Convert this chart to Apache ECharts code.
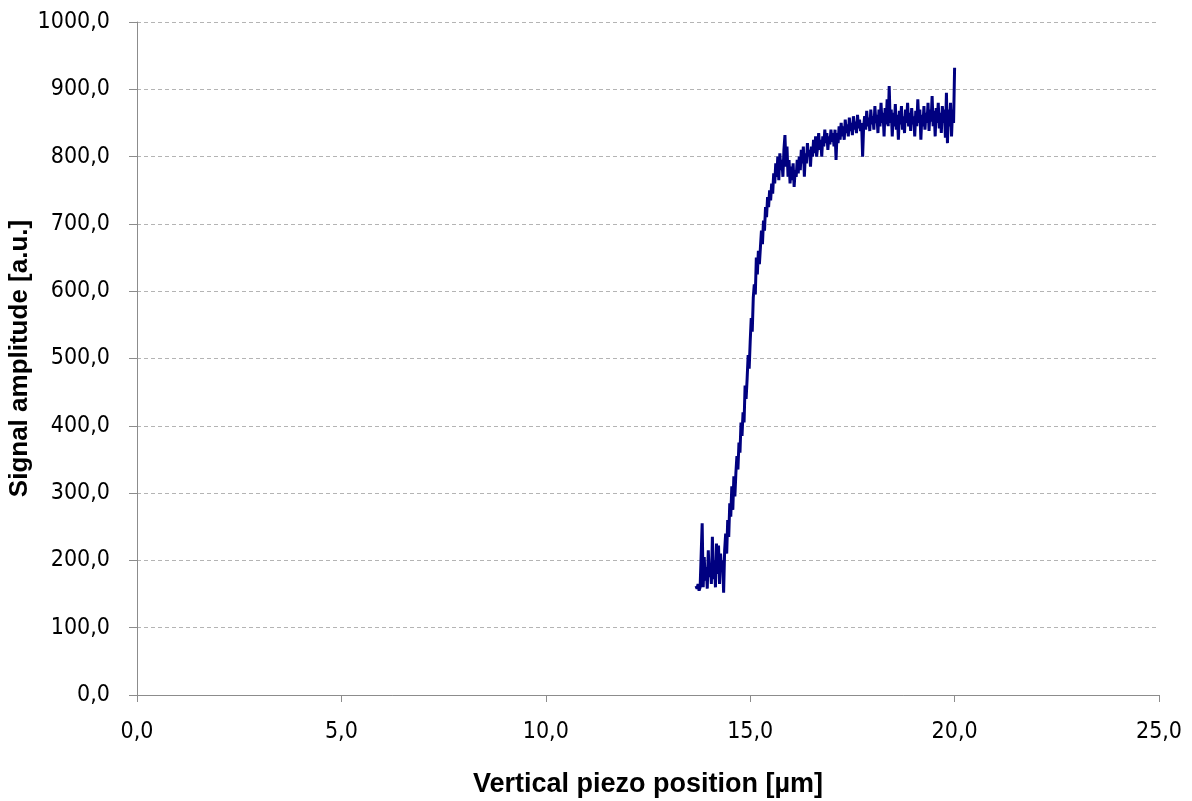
<!DOCTYPE html>
<html>
<head>
<meta charset="utf-8">
<title>Signal amplitude vs vertical piezo position</title>
<script src="https://cdn.jsdelivr.net/npm/echarts@6/dist/echarts.min.js"></script>
<style>
    html, body {
        margin: 0;
        padding: 0;
        background: #ffffff;
    }
    #chart {
        width: 1192px;
        height: 801px;
    }
</style>
</head>
<body>
<div id="chart"></div>
<script>
// axis ticks
const xTicks = [0, 5, 10, 15, 20, 25]
const yTicks = [0, 100, 200, 300, 400, 500, 600, 700, 800, 900, 1000]

// measured trace: [piezo position (µm), signal amplitude (a.u.)]
const trace = [
    [13.675, 162], [13.7, 158], [13.725, 165], [13.75, 155], [13.775, 160], [13.8, 158],
    [13.825, 255], [13.85, 160], [13.875, 205], [13.9, 170], [13.925, 190], [13.95, 158],
    [13.975, 215], [14.0, 175], [14.025, 195], [14.05, 165], [14.075, 235], [14.1, 172],
    [14.125, 200], [14.15, 160], [14.175, 225], [14.2, 180], [14.225, 222], [14.25, 165],
    [14.275, 210], [14.3, 185], [14.325, 200], [14.35, 152], [14.375, 215], [14.4, 240],
    [14.425, 210], [14.45, 260], [14.475, 235], [14.5, 285], [14.525, 265], [14.55, 310],
    [14.575, 275], [14.6, 325], [14.625, 295], [14.65, 330], [14.675, 355], [14.7, 335],
    [14.725, 375], [14.75, 360], [14.775, 405], [14.8, 385], [14.825, 420], [14.85, 405],
    [14.875, 460], [14.9, 440], [14.925, 470], [14.95, 505], [14.975, 485], [15.0, 525],
    [15.025, 560], [15.05, 540], [15.075, 590], [15.1, 610], [15.125, 595], [15.15, 650],
    [15.175, 625], [15.2, 660], [15.225, 640], [15.25, 665], [15.275, 690], [15.3, 670],
    [15.325, 705], [15.35, 690], [15.375, 725], [15.4, 710], [15.425, 740], [15.45, 725],
    [15.475, 750], [15.5, 735], [15.525, 760], [15.55, 745], [15.575, 775], [15.6, 760],
    [15.625, 790], [15.65, 770], [15.675, 800], [15.7, 765], [15.725, 805], [15.75, 780],
    [15.775, 795], [15.8, 770], [15.825, 810], [15.85, 832], [15.875, 785], [15.9, 815],
    [15.925, 770], [15.95, 795], [15.975, 760], [16.0, 785], [16.025, 765], [16.05, 790],
    [16.075, 755], [16.1, 780], [16.125, 770], [16.15, 795], [16.175, 775], [16.2, 800],
    [16.225, 780], [16.25, 810], [16.275, 790], [16.3, 815], [16.325, 770], [16.35, 805],
    [16.375, 790], [16.4, 820], [16.425, 800], [16.45, 810], [16.475, 785], [16.5, 815],
    [16.525, 800], [16.55, 825], [16.575, 805], [16.6, 830], [16.625, 800], [16.65, 815],
    [16.675, 835], [16.7, 810], [16.725, 825], [16.75, 800], [16.775, 830], [16.8, 815],
    [16.825, 840], [16.85, 820], [16.875, 835], [16.9, 810], [16.925, 830], [16.95, 818],
    [16.975, 840], [17.0, 822], [17.025, 835], [17.05, 815], [17.075, 840], [17.1, 795],
    [17.125, 835], [17.15, 820], [17.175, 845], [17.2, 825], [17.225, 850], [17.25, 830],
    [17.275, 845], [17.3, 825], [17.325, 855], [17.35, 835], [17.375, 848], [17.4, 830],
    [17.425, 858], [17.45, 838], [17.475, 850], [17.5, 832], [17.525, 860], [17.55, 840],
    [17.575, 852], [17.6, 835], [17.625, 862], [17.65, 842], [17.675, 855], [17.7, 838],
    [17.725, 850], [17.75, 800], [17.775, 845], [17.8, 860], [17.825, 840], [17.85, 868],
    [17.875, 845], [17.9, 858], [17.925, 838], [17.95, 870], [17.975, 848], [18.0, 860],
    [18.025, 840], [18.05, 875], [18.075, 850], [18.1, 862], [18.125, 835], [18.15, 870],
    [18.175, 845], [18.2, 880], [18.225, 850], [18.25, 865], [18.275, 830], [18.3, 872],
    [18.325, 848], [18.35, 885], [18.375, 845], [18.4, 905], [18.425, 850], [18.45, 870],
    [18.475, 830], [18.5, 865], [18.525, 845], [18.55, 878], [18.575, 840], [18.6, 862],
    [18.625, 825], [18.65, 868], [18.675, 848], [18.7, 875], [18.725, 840], [18.75, 860],
    [18.775, 835], [18.8, 870], [18.825, 850], [18.85, 880], [18.875, 845], [18.9, 865],
    [18.925, 838], [18.95, 872], [18.975, 848], [19.0, 860], [19.025, 830], [19.05, 868],
    [19.075, 845], [19.1, 885], [19.125, 850], [19.15, 870], [19.175, 825], [19.2, 862],
    [19.225, 845], [19.25, 875], [19.275, 840], [19.3, 865], [19.325, 850], [19.35, 880],
    [19.375, 838], [19.4, 870], [19.425, 852], [19.45, 890], [19.475, 845], [19.5, 868],
    [19.525, 830], [19.55, 872], [19.575, 850], [19.6, 880], [19.625, 842], [19.65, 865],
    [19.675, 835], [19.7, 875], [19.725, 850], [19.75, 870], [19.775, 828], [19.8, 895],
    [19.825, 820], [19.85, 870], [19.875, 845], [19.9, 880], [19.925, 830], [19.95, 870],
    [19.975, 850], [20.0, 932]
]

const commaFmt = v => v.toFixed(1).replace('.', ',')

const titleFont = 'Arial, "Liberation Sans", sans-serif'

const chart = echarts.init(document.getElementById('chart'))
let option = {
    animation: false,
    backgroundColor: '#ffffff',
    textStyle: {
        fontFamily: '"DejaVu Sans Condensed", "DejaVu Sans", sans-serif'
    },
    grid: {
        left: 137,
        right: 33,
        top: 22,
        bottom: 106,
        containLabel: false,
        outerBoundsMode: 'none'
    },
    xAxis: {
        type: 'value',
        min: xTicks[0],
        max: xTicks[xTicks.length - 1],
        interval: 5,
        name: 'Vertical piezo position [µm]',
        nameLocation: 'middle',
        nameGap: 76,
        nameMoveOverlap: false,
        nameTextStyle: {
            color: '#000',
            fontFamily: titleFont,
            fontSize: 27,
            fontWeight: 'bold'
        },
        axisLine: {
            lineStyle: { color: '#8c8c8c', width: 1 }
        },
        axisTick: {
            show: true,
            inside: false,
            length: 7,
            lineStyle: { color: '#8c8c8c' }
        },
        axisLabel: {
            color: '#000',
            fontSize: 23,
            margin: 26,
            formatter: commaFmt
        },
        splitLine: { show: false }
    },
    yAxis: {
        type: 'value',
        min: yTicks[0],
        max: yTicks[yTicks.length - 1],
        interval: 100,
        name: 'Signal amplitude [a.u.]',
        nameLocation: 'middle',
        nameGap: 104,
        nameMoveOverlap: false,
        nameRotate: 90,
        nameTextStyle: {
            color: '#000',
            fontFamily: titleFont,
            fontSize: 26,
            fontWeight: 'bold'
        },
        axisLine: {
            show: true,
            lineStyle: { color: '#8c8c8c', width: 1 }
        },
        axisTick: {
            show: true,
            inside: false,
            length: 8,
            lineStyle: { color: '#8c8c8c' }
        },
        axisLabel: {
            color: '#000',
            fontSize: 23,
            margin: 27,
            formatter: commaFmt
        },
        splitLine: {
            show: true,
            lineStyle: { color: '#b4b4b4', type: [4, 3], width: 1 }
        }
    },
    series: [
        {
            type: 'line',
            data: trace,
            showSymbol: false,
            lineStyle: { color: '#000080', width: 3 },
            itemStyle: { color: '#000080' }
        }
    ]
}
chart.setOption(option, true)
</script>
</body>
</html>
